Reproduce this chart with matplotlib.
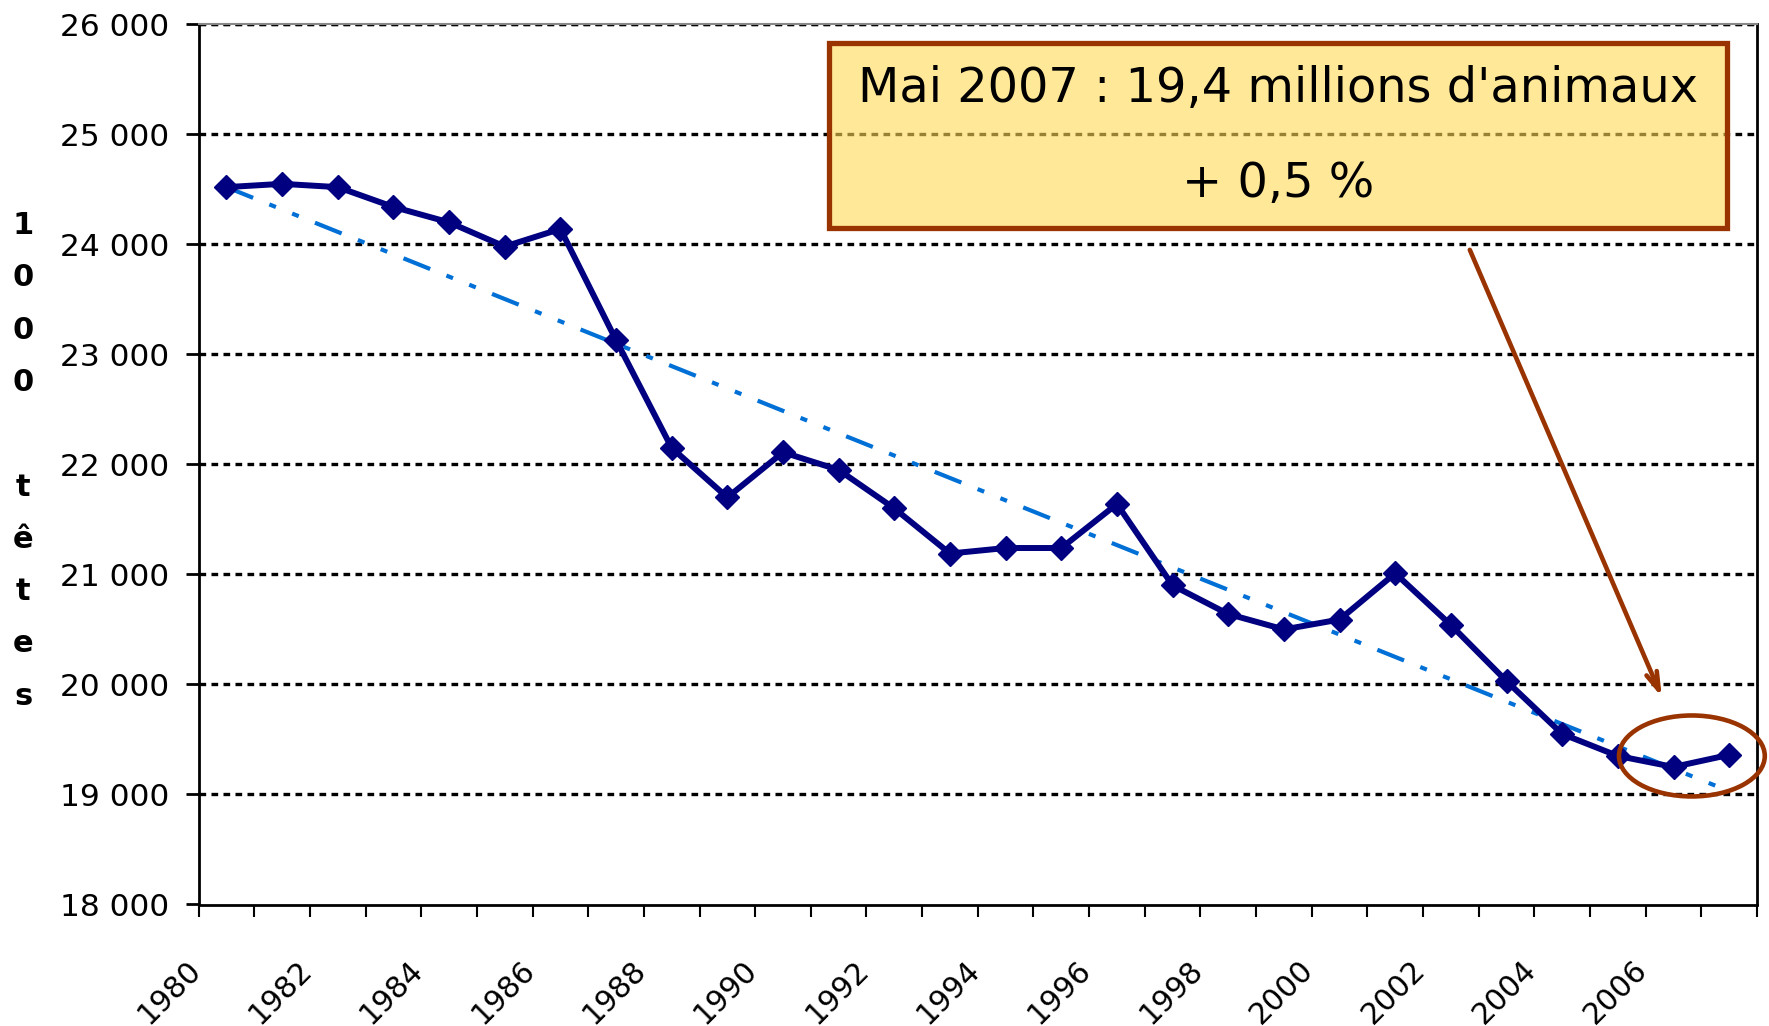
import numpy as np
import matplotlib
matplotlib.use("Agg")
import matplotlib.pyplot as plt
from matplotlib.patches import Rectangle, Ellipse

# data (thousands of head)
years = list(range(1980, 2008))
heads = [24520, 24550, 24520, 24340, 24200, 23980, 24140,
         23130, 22150, 21700, 22110, 21950, 21600, 21190,
         21240, 21240, 21640, 20900, 20640, 20500, 20590,
         21010, 20540, 20030, 19550, 19350, 19250, 19360]
trend_years = [1980, 2007]
trend_vals = [24520, 19030]

y_ticks = [18000, 19000, 20000, 21000, 22000, 23000, 24000, 25000, 26000]
y_labels = ["18 000", "19 000", "20 000", "21 000", "22 000", "23 000",
            "24 000", "25 000", "26 000"]
x_label_years = years[::2]

NAVY = "#000080"
TREND = "#0070D6"
BROWN = "#993300"

W, H = 1769, 1026
fig = plt.figure(figsize=(W / 100, H / 100), dpi=100)
ax = fig.add_axes([198.6 / W, 1 - 904.5 / H, (1757 - 198.6) / W, (904.5 - 24.3) / H])

xpos = np.arange(len(years))
tpos = [years.index(y) for y in trend_years]

# grid
for v in y_ticks[1:]:
    ax.axhline(v, color="black", lw=2.4, dashes=(2.0, 1.6), zorder=1)

ax.plot(tpos, trend_vals, color=TREND, lw=3.0,
        dashes=(6.9, 4.2, 1.7, 4.2, 1.7, 4.2), zorder=3)
ax.plot(xpos, heads, color=NAVY, lw=4.3, marker="D", ms=12,
        mfc=NAVY, mec=NAVY, zorder=4)

ax.set_xlim(-0.5, len(years) - 0.5)
ax.set_ylim(18000, 26000)

ax.set_yticks(y_ticks)
ax.set_yticklabels(y_labels, fontsize=22.5)
ax.tick_params(axis="y", length=9.4, width=2, pad=12)

ax.set_xticks(np.arange(-0.5, len(years), 1.0), minor=True)
ax.set_xticks([years.index(y) - 0.36 for y in x_label_years])
ax.set_xticklabels([str(y) for y in x_label_years], fontsize=21.5,
                   rotation=45, ha="right")
ax.tick_params(axis="x", which="major", length=0, pad=36)
ax.tick_params(axis="x", which="minor", length=8.6, width=1.5)

for s in ["left", "bottom", "right"]:
    ax.spines[s].set_linewidth(2)
    ax.spines[s].set_color("black")
ax.spines["top"].set_color("#888888")
ax.spines["top"].set_linewidth(1.5)
ax.axhline(26000, color="black", lw=2.4, dashes=(2.0, 1.6), zorder=1)

# y label, letters stacked
for i, ch in enumerate("1000 têtes"):
    if ch == " ":
        continue
    fig.text(23 / W, 1 - (225.6 + i * 52.3) / H, ch, fontsize=22,
             fontweight="bold", ha="center", va="center")

# annotation box
ax.add_patch(Rectangle((0.4045, 0.7686), 0.9807 - 0.4045, 0.9788 - 0.7686,
                       transform=ax.transAxes, facecolor=(1.0, 0.85, 0.33, 0.6),
                       edgecolor=BROWN, lw=3.8, zorder=5))
ax.text(0.6926, 0.9276, "Mai 2007 : 19,4 millions d'animaux", transform=ax.transAxes,
        fontsize=34.5, ha="center", va="center", zorder=6)
ax.text(0.6926, 0.8197, "+ 0,5 %", transform=ax.transAxes,
        fontsize=34.5, ha="center", va="center", zorder=6)

ax.annotate("", xy=(25.79, 19886), xytext=(22.34, 23950),
            arrowprops=dict(arrowstyle="->,head_length=1.3,head_width=0.4",
                            color=BROWN, lw=3.3, shrinkA=0, shrinkB=0),
            zorder=6)
ax.add_patch(Ellipse((26.33, 19350), 2.62, 736, fill=False, edgecolor=BROWN,
                     lw=3.3, clip_on=False, zorder=6))

fig.savefig("out.png", dpi=100)
